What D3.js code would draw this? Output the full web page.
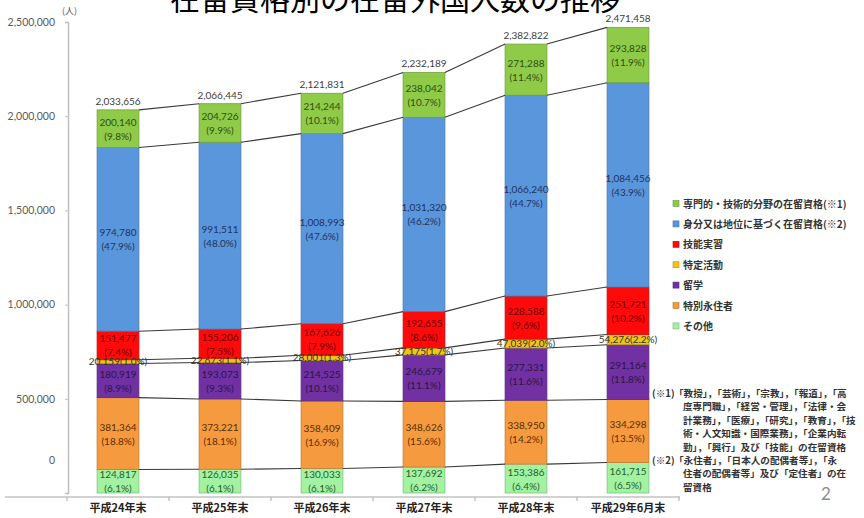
<!DOCTYPE html>
<html>
<head>
<meta charset="utf-8">
<script src="https://cdn.jsdelivr.net/npm/d3@7"></script>
<style>
  body { margin: 0; background: #fff; }
  svg { display: block; }
  .jp { font-family: "Noto Sans CJK JP", sans-serif; }
  .num { font-family: Lato, "Liberation Sans", sans-serif; }
</style>
</head>
<body>
<div id="chart"></div>
<script>
// categories (x axis)
const years = ['平成24年末', '平成25年末', '平成26年末', '平成27年末', '平成28年末', '平成29年6月末'];
const totals = [2033656, 2066445, 2121831, 2232189, 2382822, 2471458];

// series values, bottom of the stack first
const sonota    = [124817, 126035, 130033, 137692, 153386, 161715];
const tokubetsu = [381364, 373221, 358409, 348626, 338950, 334298];
const ryugaku   = [180919, 193073, 214525, 246679, 277331, 291164];
const tokutei   = [20159, 22673, 28001, 37175, 47039, 54276];
const ginou     = [151477, 155206, 167626, 192655, 228588, 251721];
const mibun     = [974780, 991511, 1008993, 1031320, 1066240, 1084456];
const senmon    = [200140, 204726, 214244, 238042, 271288, 293828];

// legend names, top to bottom
const legendNames = [
    '専門的・技術的分野の在留資格(※1)',
    '身分又は地位に基づく在留資格(※2)',
    '技能実習',
    '特定活動',
    '留学',
    '特別永住者',
    'その他'
];
const yTicks = [0, 500000, 1000000, 1500000, 2000000, 2500000];

const notes = [
    ['(※1)', '「教授」，「芸術」，「宗教」，「報道」，「高'],
    ['', '度専門職」，「経営・管理」，「法律・会'],
    ['', '計業務」，「医療」，「研究」，「教育」，「技'],
    ['', '術・人文知識・国際業務」，「企業内転'],
    ['', '勤」，「興行」及び「技能」の在留資格'],
    ['(※2)', '「永住者」，「日本人の配偶者等」，「永'],
    ['', '住者の配偶者等」及び「定住者」の在'],
    ['', '留資格']
];

const W = 864, H = 518;
const keys = ['sonota', 'tokubetsu', 'ryugaku', 'tokutei', 'ginou', 'mibun', 'senmon'];
const values = { sonota, tokubetsu, ryugaku, tokutei, ginou, mibun, senmon };
const keyName = {
    senmon: legendNames[0], mibun: legendNames[1], ginou: legendNames[2],
    tokutei: legendNames[3], ryugaku: legendNames[4], tokubetsu: legendNames[5], sonota: legendNames[6]
};
const fills = {
    senmon: '#8fcb48', mibun: '#5a96dc', ginou: '#ff0a0a', tokutei: '#f2c318',
    ryugaku: '#7131a3', tokubetsu: '#f59a3f', sonota: '#a2f2a2'
};
const labelColors = {
    senmon: '#2f4f12', mibun: '#1d3461', ginou: '#6e0000', tokutei: '#333',
    ryugaku: '#2a1545', tokubetsu: '#5a2e05', sonota: '#2a5e2a'
};

const table = years.map((y, i) => {
    const row = { year: y, total: totals[i] };
    keys.forEach(k => row[k] = values[k][i]);
    return row;
});
const series = d3.stack().keys(keys)(table);

const svg = d3.select('#chart').append('svg')
    .attr('width', W)
    .attr('height', H);

const x = d3.scaleBand()
    .domain(years)
    .range([67, 679])
    .paddingInner(0.59)
    .paddingOuter(0.295);

const y = d3.scaleLinear()
    .domain([0, 2500000])
    .range([493, 22]);

// title (cut off at the top, as in the slide)
svg.append('text')
    .attr('class', 'jp')
    .attr('x', 170)
    .attr('y', 10)
    .attr('font-size', 30)
    .attr('fill', '#000')
    .text('在留資格別の在留外国人数の推移');

svg.append('text')
    .attr('class', 'jp')
    .attr('x', 62)
    .attr('y', 14)
    .attr('font-size', 9)
    .attr('fill', '#555')
    .text('(人)');

// y axis
const yAxis = svg.append('g')
    .attr('transform', 'translate(68,0)')
    .call(d3.axisLeft(y).tickValues(yTicks).tickFormat(d3.format(',')).tickSize(3).tickPadding(10));
yAxis.select('.domain').attr('stroke', '#bfbfbf').attr('stroke-width', 1.5);
yAxis.selectAll('.tick line').attr('stroke', '#bfbfbf');
yAxis.selectAll('.tick text')
    .attr('class', 'num')
    .attr('font-size', 10.5)
    .attr('fill', '#595959')
    .attr('dy', (d) => d === 0 ? '-2.8em' : '0.32em');

// x axis with ticks between categories
const xAxisY = 497;
svg.append('line')
    .attr('x1', 5).attr('x2', 680)
    .attr('y1', xAxisY).attr('y2', xAxisY)
    .attr('stroke', '#a6a6a6').attr('stroke-width', 1.2);
const edges = years.map(d => x(d) - x.step() * x.paddingInner() / 2).concat([x.range()[1]]);
svg.selectAll('.xtick')
    .data(edges)
    .enter()
    .append('line')
    .attr('x1', d => d).attr('x2', d => d)
    .attr('y1', xAxisY).attr('y2', xAxisY + 4)
    .attr('stroke', '#a6a6a6');
svg.selectAll('.xlabel')
    .data(years)
    .enter()
    .append('text')
    .attr('class', 'jp')
    .attr('x', d => x(d) + x.bandwidth() / 2)
    .attr('y', 512)
    .attr('text-anchor', 'middle')
    .attr('font-size', 11)
    .attr('font-weight', 'bold')
    .attr('fill', '#222')
    .text(d => d);

// bars
const groups = svg.selectAll('.layer')
    .data(series)
    .enter()
    .append('g')
    .attr('fill', d => fills[d.key]);

groups.selectAll('rect')
    .data(d => d)
    .enter()
    .append('rect')
    .attr('x', d => x(d.data.year))
    .attr('y', d => y(d[1]))
    .attr('width', x.bandwidth())
    .attr('height', d => y(d[0]) - y(d[1]))
    .attr('stroke', function() { return d3.color(d3.select(this.parentNode).attr('fill')).darker(0.6); })
    .attr('stroke-width', 0.8);

// connecting lines between the bars at every stack boundary
const lineLevels = series.map(s => s.map(d => d[1]));
lineLevels.forEach(level => {
    for (let i = 0; i < years.length - 1; i++) {
        svg.append('line')
            .attr('x1', x(years[i]) + x.bandwidth())
            .attr('y1', y(level[i]))
            .attr('x2', x(years[i + 1]))
            .attr('y2', y(level[i + 1]))
            .attr('stroke', '#3a3a3a')
            .attr('stroke-width', 1.1);
    }
});

// segment labels
const fmt = d3.format(',');
const pct = (v, t) => (v / t * 100).toFixed(1) + '%';
series.forEach(s => {
    s.forEach((d, i) => {
        const cx = x(d.data.year) + x.bandwidth() / 2;
        const cy = (y(d[0]) + y(d[1])) / 2;
        const v = d.data[s.key];
        const t = totals[i];
        if (s.key === 'tokutei') {
            svg.append('text')
                .attr('class', 'num')
                .attr('x', cx)
                .attr('y', cy + 3.5)
                .attr('text-anchor', 'middle')
                .attr('font-size', 10)
                .attr('fill', labelColors[s.key])
                .text(fmt(v) + '(' + pct(v, t) + ')');
        } else {
            const lbl = svg.append('text')
                .attr('class', 'num')
                .attr('text-anchor', 'middle')
                .attr('font-size', 10)
                .attr('fill', labelColors[s.key]);
            lbl.append('tspan').attr('x', cx).attr('y', cy - 3).text(fmt(v));
            lbl.append('tspan').attr('x', cx).attr('y', cy + 11).text('(' + pct(v, t) + ')');
        }
    });
});

// totals above bars
svg.selectAll('.total')
    .data(table)
    .enter()
    .append('text')
    .attr('class', 'num')
    .attr('x', d => x(d.year) + x.bandwidth() / 2)
    .attr('y', d => y(d.total) - 5)
    .attr('text-anchor', 'middle')
    .attr('font-size', 10)
    .attr('fill', '#404040')
    .text(d => fmt(d.total));

// legend
const legendKeys = keys.slice().reverse();
const legend = svg.append('g').attr('transform', 'translate(673,204)');
legendKeys.forEach((k, i) => {
    legend.append('rect')
        .attr('x', 0)
        .attr('y', i * 20.4 - 3.5)
        .attr('width', 6)
        .attr('height', 6)
        .attr('fill', fills[k])
        .attr('stroke', d3.color(fills[k]).darker(0.8))
        .attr('stroke-width', 0.6);
    legend.append('text')
        .attr('class', 'jp')
        .attr('x', 10)
        .attr('y', i * 20.4 + 3.5)
        .attr('font-size', 10)
        .attr('font-weight', 'bold')
        .attr('fill', '#333')
        .text(keyName[k]);
});

// notes
const noteG = svg.append('g').attr('class', 'jp');
notes.forEach((n, i) => {
    const yy = 397 + i * 13.4;
    if (n[0]) {
        noteG.append('text')
            .attr('x', 652).attr('y', yy)
            .attr('font-size', 9.6).attr('font-weight', 'bold').attr('fill', '#333')
            .text(n[0]);
    }
    noteG.append('text')
        .attr('x', n[0] ? 674 : 683).attr('y', yy)
        .attr('font-size', 9.6).attr('font-weight', 'bold').attr('fill', '#333')
        .text(n[1]);
});

// page number
svg.append('text')
    .attr('class', 'num')
    .attr('x', 826)
    .attr('y', 500)
    .attr('text-anchor', 'middle')
    .attr('font-size', 17)
    .attr('fill', '#8c8c8c')
    .text('2');
</script>
</body>
</html>
